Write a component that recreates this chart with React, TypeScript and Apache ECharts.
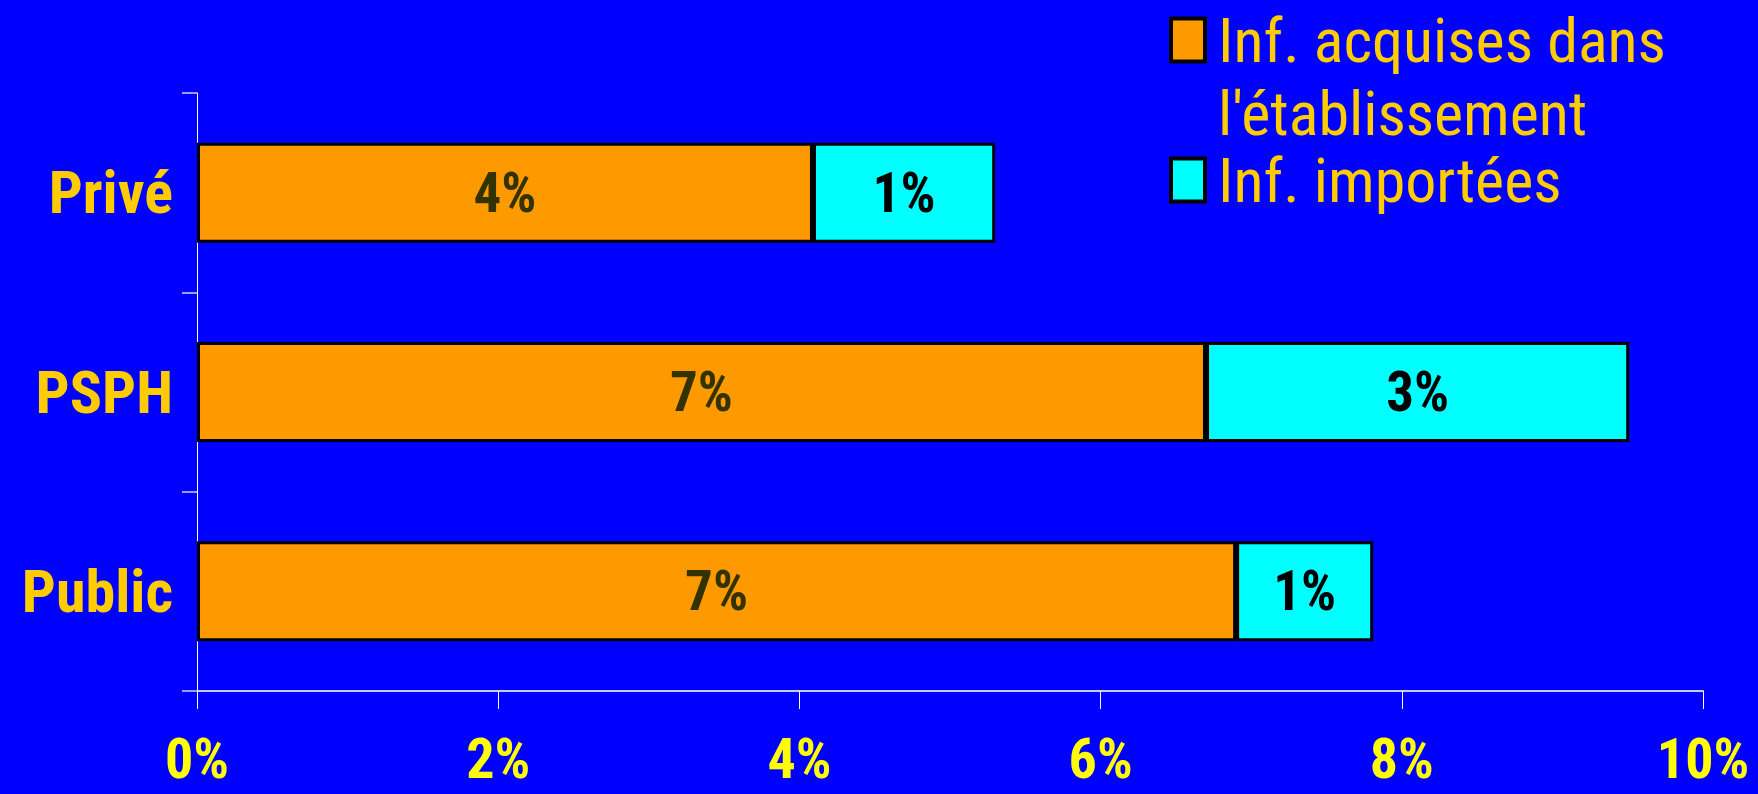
import React, { useEffect, useRef } from "react";
import * as echarts from "echarts";

const categories = ["Privé", "PSPH", "Public"];
const acquired = [4.09, 6.7, 6.9];
const imported = [1.21, 2.81, 0.91];
const xTicks = { min: 0, max: 10, interval: 2 };
const seriesNames = ["Inf. acquises dans l'établissement", "Inf. importées"];

const FONT = "'Roboto Condensed', 'Liberation Sans', Arial, sans-serif";

export default function App() {
  const ref = useRef<HTMLDivElement>(null);
  useEffect(() => {
    document.body.style.margin = "0";
    const chart = echarts.init(ref.current!, null, { renderer: "svg" });
    const legendText = { color: "#FFCC00", fontFamily: FONT, fontSize: 62 };
    chart.setOption({
      animation: false,
      backgroundColor: "#0000FF",
      grid: { left: 197, right: 55, top: 93, bottom: 103, outerBoundsMode: "none", containLabel: false },
      legend: {
        orient: "vertical",
        left: 1164,
        top: -69,
        itemWidth: 34,
        itemHeight: 43,
        itemGap: 5,
        padding: 5,
        icon: "rect",
        itemStyle: { borderColor: "#000", borderWidth: 4 },
        formatter: (name: string) =>
          name === seriesNames[0]
            ? "{a| }\n{a|Inf. acquises dans}\n{a|l'établissement}"
            : "{b|" + name + "}",
        textStyle: {
          ...legendText,
          padding: [0, 0, 0, 8],
          rich: {
            a: { ...legendText, lineHeight: 73 },
            b: { ...legendText, lineHeight: 52 },
          },
        },
        data: seriesNames,
      },
      xAxis: {
        type: "value",
        min: xTicks.min,
        max: xTicks.max,
        interval: xTicks.interval,
        splitLine: { show: false },
        axisLine: { show: true, lineStyle: { color: "#c8c8ff", width: 2 } },
        axisTick: { show: true, length: 18, lineStyle: { color: "#ffffff", width: 1 } },
        axisLabel: {
          formatter: "{value}%",
          color: "#FFFF00",
          fontFamily: FONT,
          fontWeight: "bold",
          fontSize: 56,
          lineHeight: 42,
          margin: 47,
        },
      },
      yAxis: {
        type: "category",
        data: categories,
        inverse: true,
        axisLine: { show: true, lineStyle: { color: "#ffffff", width: 1 } },
        axisTick: { show: true, length: 15, lineStyle: { color: "#9a9aff", width: 2 } },
        axisLabel: {
          color: "#FFCC00",
          fontFamily: FONT,
          fontWeight: "bold",
          fontSize: 60,
          margin: 24,
        },
      },
      series: [
        {
          name: seriesNames[0],
          type: "bar",
          stack: "total",
          barWidth: 100,
          data: acquired,
          itemStyle: { color: "#FF9900", borderColor: "#000", borderWidth: 3 },
          label: {
            show: true,
            position: "inside",
            formatter: (p: any) => Math.round(p.value) + "%",
            color: "#333300",
            fontFamily: FONT,
            fontWeight: "bold",
            fontSize: 55,
          },
        },
        {
          name: seriesNames[1],
          type: "bar",
          stack: "total",
          barWidth: 100,
          data: imported,
          itemStyle: { color: "#00FFFF", borderColor: "#000", borderWidth: 3 },
          label: {
            show: true,
            position: "inside",
            formatter: (p: any) => Math.round(p.value) + "%",
            color: "#000000",
            fontFamily: FONT,
            fontWeight: "bold",
            fontSize: 55,
          },
        },
      ],
    });
    return () => chart.dispose();
  }, []);
  return (
    <div
      ref={ref}
      style={{ position: "absolute", left: 0, top: 0, width: 1758, height: 794 }}
    />
  );
}
